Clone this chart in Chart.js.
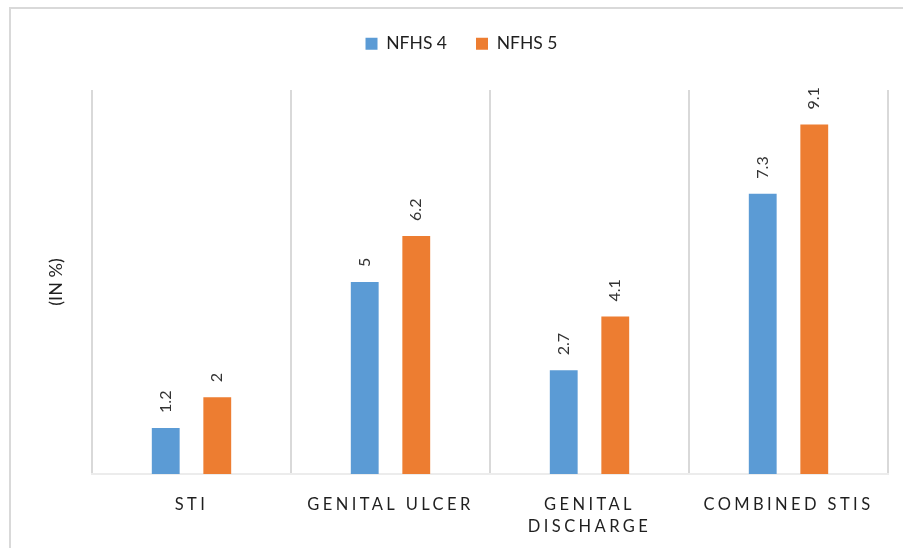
<!DOCTYPE html>
<html>
<head>
<meta charset="utf-8">
<script src="https://cdn.jsdelivr.net/npm/chart.js@4"></script>
<style>
    html, body { margin: 0; padding: 0; background: #fff; overflow: hidden; }
    #wrap { position: relative; width: 903px; height: 548px; }
    #frame { position: absolute; left: 9px; top: 7px; width: 940px; height: 600px; border: 2px solid #d9d9d9; }
    canvas { position: absolute; left: 0; top: 0; }
</style>
</head>
<body>
<div id="wrap">
    <div id="frame"></div>
    <canvas id="chart" width="903" height="548"></canvas>
</div>
<script>
// 数据
const categories = ['STI', 'GENITAL ULCER', ['GENITAL', 'DISCHARGE'], 'COMBINED STIS'];
const seriesNames = ['NFHS 4', 'NFHS 5'];
const nfhs4 = [1.2, 5, 2.7, 7.3];
const nfhs5 = [2, 6.2, 4.1, 9.1];
const colors = ['#5B9BD5', '#ED7D31'];

const FONT = 'Lato, "Noto Sans", sans-serif';

// 柱顶数值（竖排）
const valueLabels = {
    id: 'valueLabels',
    afterDatasetsDraw(chart) {
        const ctx = chart.ctx;
        ctx.save();
        ctx.font = '16px ' + FONT;
        ctx.fillStyle = '#333333';
        ctx.textAlign = 'left';
        ctx.textBaseline = 'middle';
        chart.data.datasets.forEach((ds, i) => {
            chart.getDatasetMeta(i).data.forEach((bar, j) => {
                ctx.save();
                ctx.translate(bar.x, bar.y - 15);
                ctx.rotate(-Math.PI / 2);
                ctx.fillText(String(ds.data[j]), 0, 0);
                ctx.restore();
            });
        });
        ctx.restore();
    }
};

// x轴标签字间距 + 图例高度
const tweaks = {
    id: 'tweaks',
    beforeInit(chart) {
        const fit = chart.legend.fit;
        chart.legend.fit = function () {
            fit.bind(chart.legend)();
            this.height = 84;
        };
    },
    afterLayout(chart) {
        const sx = chart.scales.x;
        if (sx._spaced) return;
        const orig = sx.drawLabels;
        sx.drawLabels = function (area) {
            this.ctx.save();
            this.ctx.letterSpacing = '3.4px';
            orig.call(this, area);
            this.ctx.restore();
        };
        sx._spaced = true;
    }
};

new Chart(document.getElementById('chart'), {
    type: 'bar',
    data: {
        labels: categories,
        datasets: [
            { label: seriesNames[0], data: nfhs4, backgroundColor: colors[0] },
            { label: seriesNames[1], data: nfhs5, backgroundColor: colors[1] }
        ]
    },
    options: {
        responsive: false,
        devicePixelRatio: 1,
        animation: false,
        categoryPercentage: 0.518,
        barPercentage: 0.54,
        layout: { padding: { top: 6, left: 35, right: 15, bottom: 0 } },
        plugins: {
            legend: {
                position: 'top',
                labels: {
                    boxWidth: 12,
                    boxHeight: 12,
                    padding: 29,
                    color: '#1f1f1f',
                    font: { family: FONT, size: 17.5 }
                }
            },
            tooltip: { enabled: false }
        },
        scales: {
            x: {
                grid: { offset: true, color: '#d9d9d9', lineWidth: 2, drawTicks: false },
                border: { display: true, color: '#ececec', width: 2 },
                ticks: {
                    color: '#1f1f1f',
                    padding: 20,
                    maxRotation: 0,
                    autoSkip: false,
                    font: { family: FONT, size: 16.5, lineHeight: 1.33 }
                },
                afterFit: (s) => { s.height = 74; }
            },
            y: {
                min: 0,
                max: 10,
                grid: { display: false },
                border: { display: false },
                ticks: { display: false },
                title: {
                    display: true,
                    text: '(IN %)',
                    color: '#1f1f1f',
                    padding: { top: 10, bottom: 0 },
                    font: { family: FONT, size: 18 }
                },
                afterFit: (s) => { s.width = 57; }
            }
        }
    },
    plugins: [valueLabels, tweaks]
});
</script>
</body>
</html>
